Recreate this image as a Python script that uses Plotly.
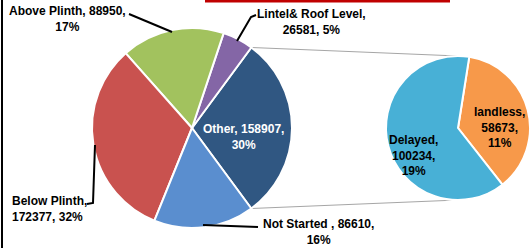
import math
import plotly.graph_objects as go

# ---- data ----
main_labels = ["Other", "Lintel& Roof Level", "Above Plinth", "Below Plinth", "Not Started "]
main_values = [158907, 26581, 88950, 172377, 86610]
main_colors = ["#305782", "#8466a6", "#a2c25e", "#c9524f", "#5a8ecf"]

sub_labels = ["landless", "Delayed"]
sub_values = [58673, 100234]
sub_colors = ["#f7994a", "#48b0d6"]

W, H = 532, 248
total = sum(main_values)

def pct(v):
    return f"{round(v / total * 100)}%"

def px(x):
    return x / W

def py(y):
    return 1 - y / H

# geometry (pixels)
mc = (192, 128); mr = 100
sc = (458, 128); sr = 72
other_half = main_values[0] / total * 180  # half angle of "Other"

fig = go.Figure()
fig.add_trace(go.Pie(
    labels=main_labels, values=main_values, sort=False,
    direction="counterclockwise", rotation=90 - other_half,
    marker=dict(colors=main_colors, line=dict(color="white", width=2)),
    textinfo="none", hoverinfo="label+value+percent", showlegend=False,
    domain=dict(x=[px(mc[0] - mr), px(mc[0] + mr)], y=[py(mc[1] + mr), py(mc[1] - mr)]),
))
fig.add_trace(go.Pie(
    labels=sub_labels, values=sub_values, sort=False,
    direction="clockwise", rotation=9,
    marker=dict(colors=sub_colors, line=dict(color="white", width=2)),
    textinfo="none", hoverinfo="label+value", showlegend=False,
    domain=dict(x=[px(sc[0] - sr), px(sc[0] + sr)], y=[py(sc[1] + sr), py(sc[1] - sr)]),
))

shapes = []
# connector lines from "Other" slice edges to the secondary pie
a = math.radians(other_half)
top_main = (mc[0] + mr * math.cos(a), mc[1] - mr * math.sin(a))
bot_main = (mc[0] + mr * math.cos(a), mc[1] + mr * math.sin(a))
for p0, p1 in [(top_main, (sc[0], sc[1] - sr)), (bot_main, (sc[0], sc[1] + sr))]:
    shapes.append(dict(type="line", xref="paper", yref="paper",
                       x0=px(p0[0]), y0=py(p0[1]), x1=px(p1[0]), y1=py(p1[1]),
                       line=dict(color="#a6a6a6", width=1), layer="below"))

def poly(points):
    path = "M " + " L ".join(f"{px(x)},{py(y)}" for x, y in points)
    return dict(type="path", xref="paper", yref="paper", path=path,
                line=dict(color="black", width=2))

shapes += [
    poly([(129, 14), (172, 32)]),
    poly([(256, 15), (251, 17), (237, 41)]),
    poly([(95, 145), (93, 203), (87, 204)]),
    poly([(203, 225), (258, 227)]),
    # left border
    dict(type="line", xref="paper", yref="paper", x0=px(2), x1=px(2), y0=0, y1=1,
         line=dict(color="black", width=2)),
    # red bar at top
    dict(type="rect", xref="paper", yref="paper", x0=px(205), x1=px(450), y0=py(2.5), y1=1,
         fillcolor="#c00000", line=dict(width=0)),
]

FONT = "Liberation Sans"
def ann(text, x, y, color="black", align="center", xanchor="center"):
    return dict(text=text, x=px(x), y=py(y), xref="paper", yref="paper",
                showarrow=False, align=align, xanchor=xanchor, yanchor="middle",
                font=dict(family=FONT, size=12, color=color, weight="bold"))

v = dict(zip(main_labels, main_values))
sv = dict(zip(sub_labels, sub_values))
annotations = [
    ann(f"Above Plinth, {v['Above Plinth']},<br>{pct(v['Above Plinth'])}", 67, 19),
    ann(f"Lintel& Roof Level,<br>{v['Lintel& Roof Level']}, {pct(v['Lintel& Roof Level'])}", 311, 22),
    ann(f"Below Plinth,<br>{v['Below Plinth']}, {pct(v['Below Plinth'])}", 10, 209, align="left", xanchor="left"),
    ann(f"Not Started , {v['Not Started ']},<br>{pct(v['Not Started '])}", 318, 232),
    ann(f"Other, {v['Other']},<br>{pct(v['Other'])}", 243, 137, color="white"),
    ann(f"Delayed,<br>{sv['Delayed']},<br>{pct(sv['Delayed'])}", 413, 155),
    ann(f"landless,<br>{sv['landless']},<br>{pct(sv['landless'])}", 499, 127),
]

fig.update_layout(width=W, height=H, margin=dict(l=0, r=0, t=0, b=0),
                  paper_bgcolor="white", plot_bgcolor="white",
                  shapes=shapes, annotations=annotations)
fig.write_html("out.html", config={"displayModeBar": False},
               post_script="document.body.style.margin='0';document.body.style.overflow='hidden';")
